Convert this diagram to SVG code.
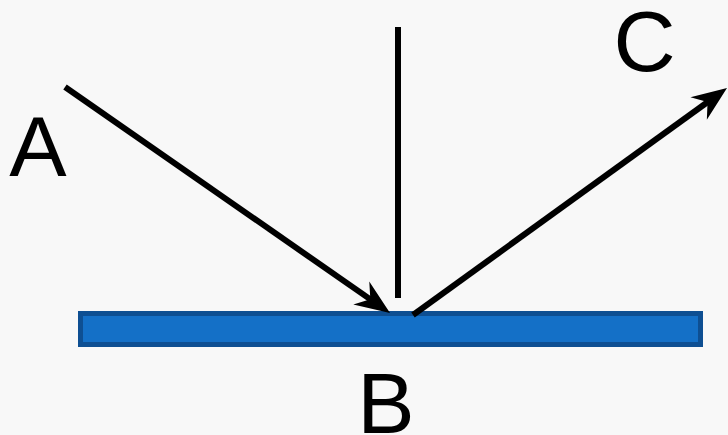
<svg xmlns="http://www.w3.org/2000/svg" width="728" height="435" viewBox="0 0 728 435">
  <style>
    .lbl { font-family: "Liberation Sans", Arial, sans-serif; font-size: 86px; fill: #000; text-anchor: middle; }
    .ray { stroke: #000; stroke-width: 6; fill: none; }
  </style>
  <defs>
    <marker id="arrow" markerUnits="userSpaceOnUse" viewBox="-18 -16 42 32" markerWidth="42" markerHeight="32" refX="0" refY="0" orient="auto">
      <path d="M20,0 L-15,-14 L-4,0 L-15,14 Z" fill="#000"/>
    </marker>
  </defs>
  <rect width="728" height="435" fill="#f8f8f8"/>
  <g id="surface">
    <rect x="80.5" y="313.5" width="620" height="31" fill="#1470C7" stroke="#0E4F92" stroke-width="5"/>
  </g>
  <g id="connectors">
    <line class="ray" x1="65" y1="87" x2="373.6" y2="301.6" marker-end="url(#arrow)"/>
    <line class="ray" x1="398" y1="27" x2="398" y2="298" stroke-width="8"/>
    <line class="ray" x1="413" y1="315" x2="710.8" y2="99.7" marker-end="url(#arrow)"/>
  </g>
  <g id="label-A"><text class="lbl" x="38" y="176">A</text></g>
  <g id="label-B"><text class="lbl" x="386" y="433">B</text></g>
  <g id="label-C"><text class="lbl" x="644.5" y="71">C</text></g>
</svg>
